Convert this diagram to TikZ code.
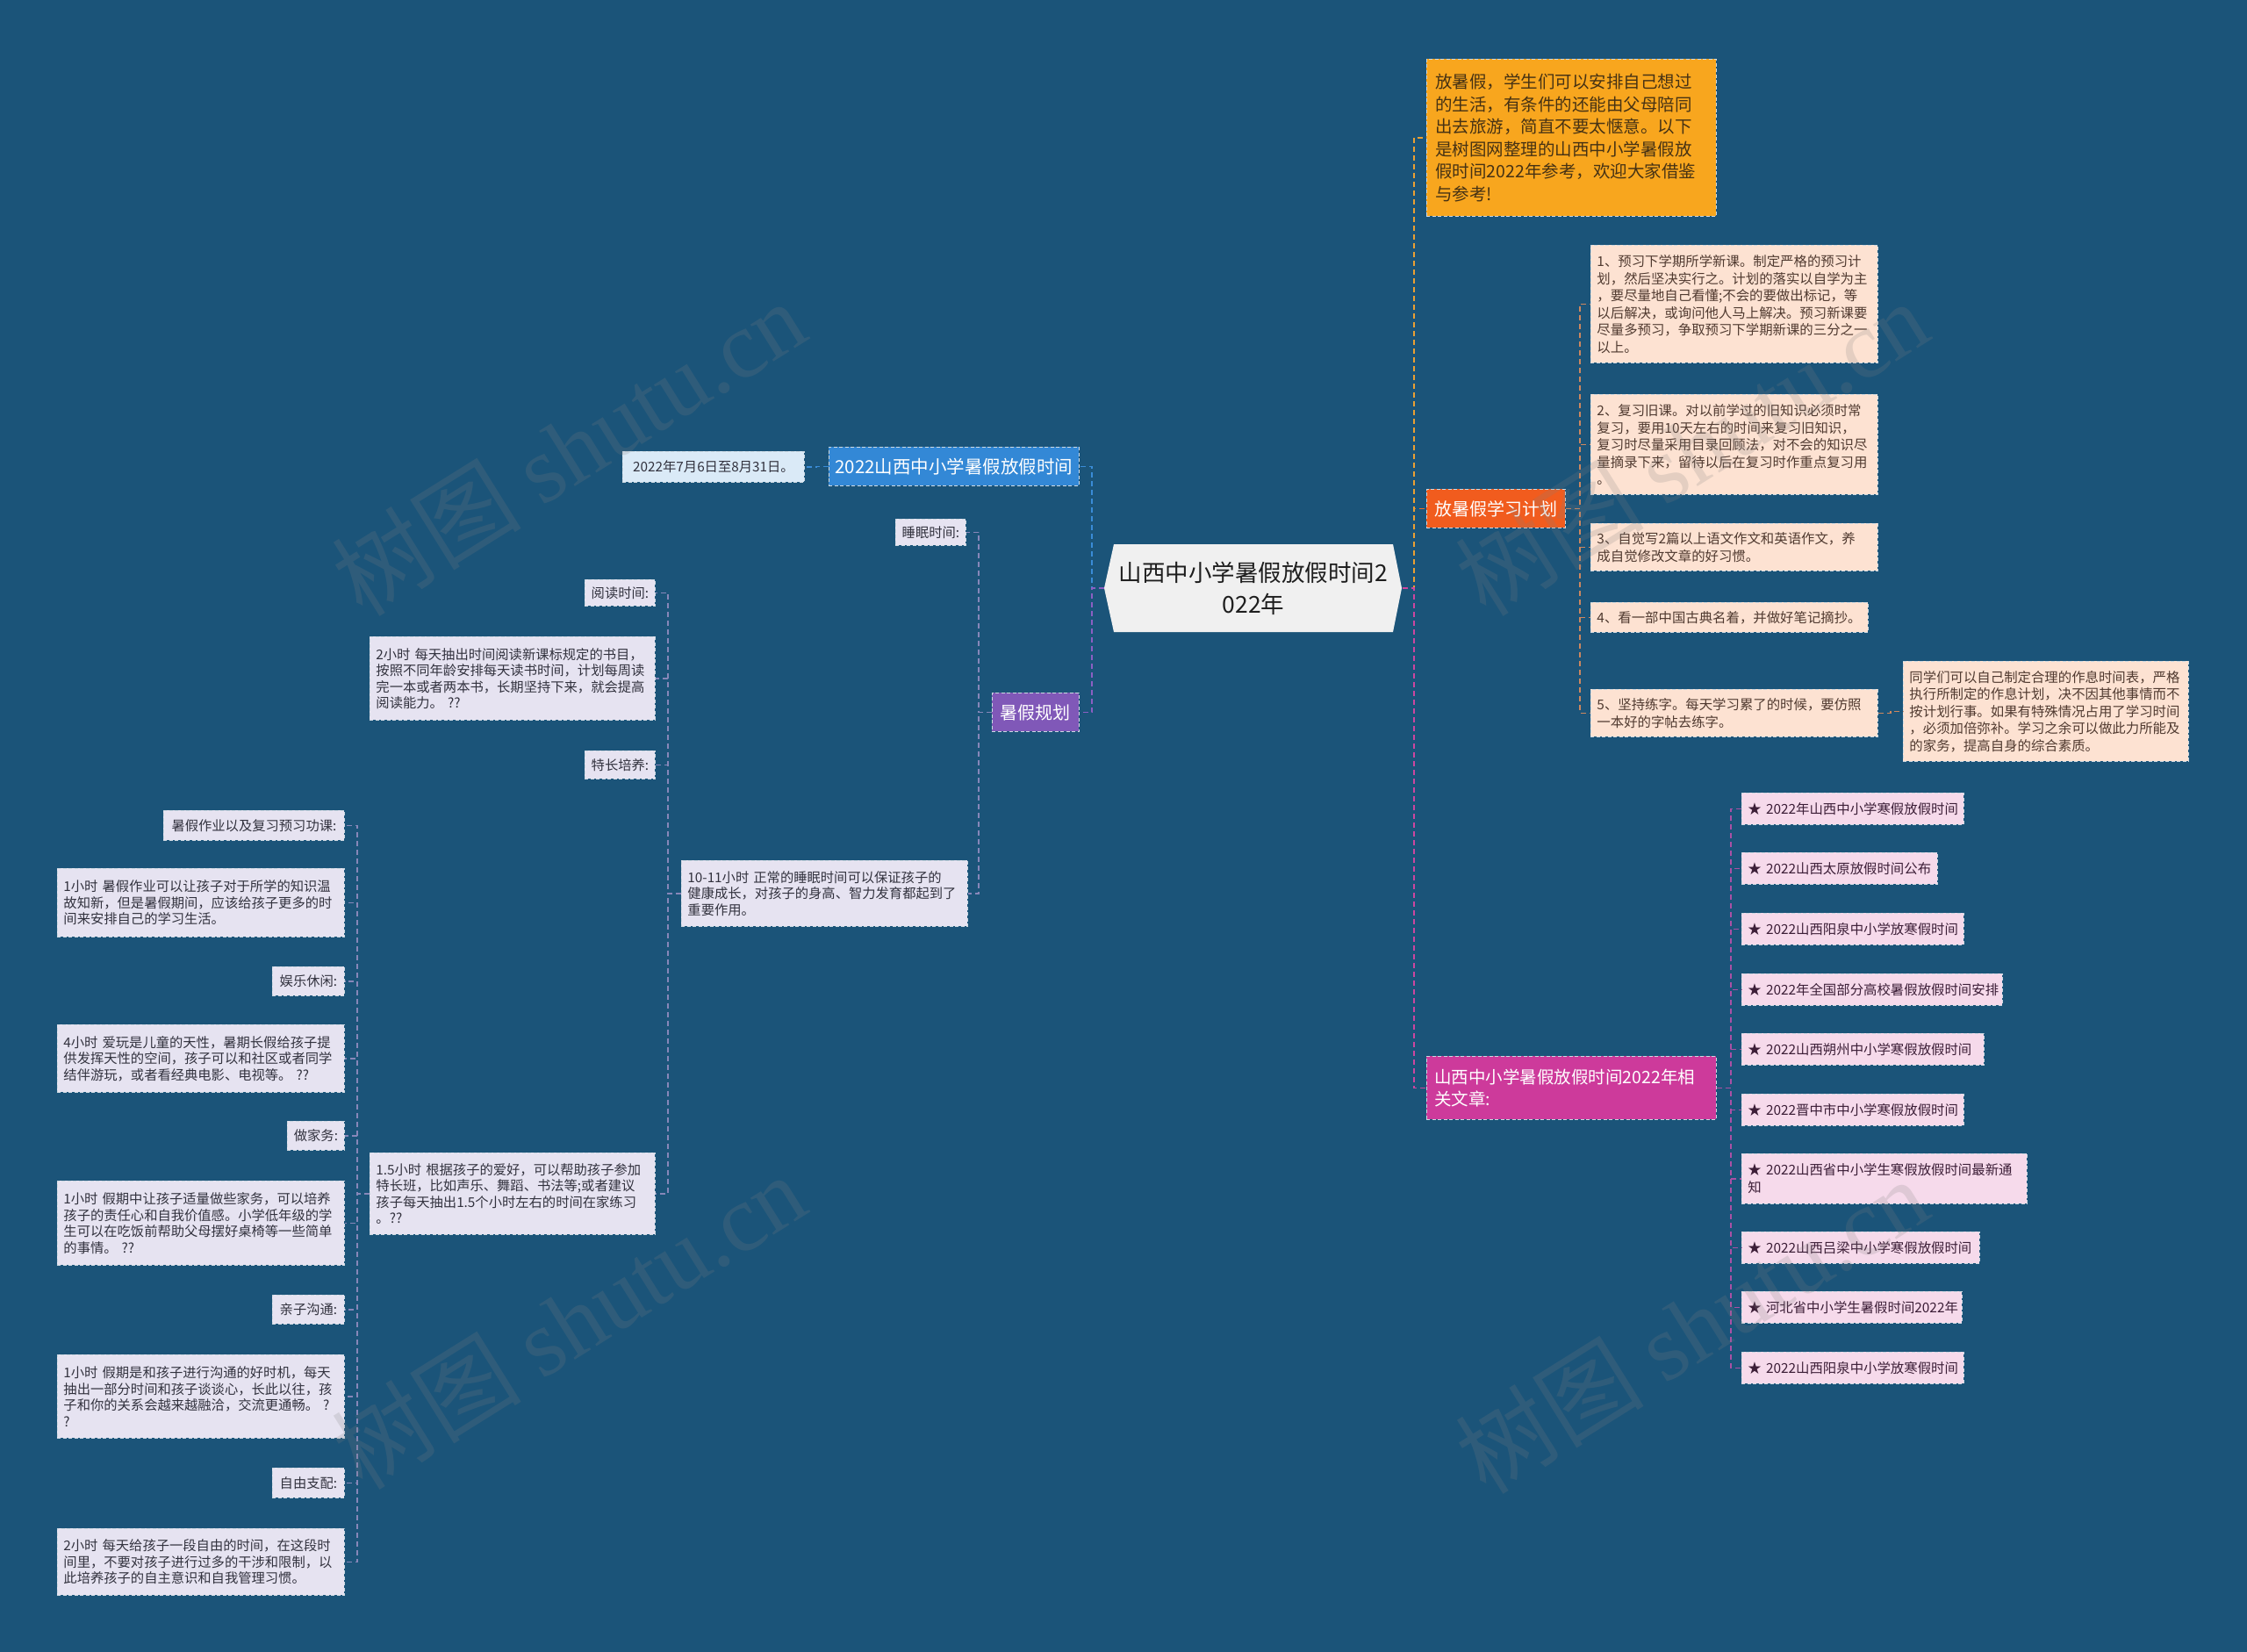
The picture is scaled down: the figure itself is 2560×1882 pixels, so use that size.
\documentclass[tikz,border=0pt]{standalone}
\usepackage{fontspec}
\newfontfamily\cjk{Noto Sans CJK SC}
\newfontfamily\wmserif{Liberation Serif}
\usetikzlibrary{positioning, calc}
\definecolor{bgc}{RGB}{27,84,121}
\definecolor{rootc}{RGB}{240,240,240}
\definecolor{blueN}{RGB}{51,136,214}
\definecolor{lblue}{RGB}{218,234,247}
\definecolor{purpN}{RGB}{128,88,184}
\definecolor{lav}{RGB}{230,227,241}
\definecolor{orgN}{RGB}{248,166,30}
\definecolor{redN}{RGB}{241,92,30}
\definecolor{peach}{RGB}{253,226,210}
\definecolor{magN}{RGB}{205,58,155}
\definecolor{pinkb}{RGB}{246,218,235}
\definecolor{txt}{RGB}{50,50,62}
\definecolor{blueL}{RGB}{58,140,215}
\definecolor{purpL}{RGB}{140,95,195}
\definecolor{greyL}{RGB}{135,135,185}
\definecolor{orgL}{RGB}{235,160,50}
\definecolor{redL}{RGB}{235,110,40}
\definecolor{tanL}{RGB}{205,135,95}
\definecolor{magL}{RGB}{205,70,160}
\definecolor{artL}{RGB}{170,80,165}
\tikzset{
  lk/.style={draw=#1, line width=1.7pt, dash pattern=on 6pt off 4pt},
  bx/.style={draw=white!78!bgc, line width=0.9pt, dash pattern=on 4pt off 2.5pt,
    align=left, anchor=north west, inner xsep=7pt, inner ysep=0pt, text=txt,
    font=\cjk\fontsize{15.3}{18.5}\selectfont},
  top/.style={bx, text=white, inner xsep=9pt, font=\cjk\fontsize{20}{24}\selectfont},
  wm/.style={text=gray, opacity=0.2, font=\cjk\fontsize{108}{108}\selectfont, rotate=32}
}
\begin{document}
\begin{tikzpicture}[x=1pt, y=-1pt,
  lavb/.style={bx, fill=lav},
  pchb/.style={bx, fill=peach, text={rgb,255:red,80;green,58;blue,48},
    font=\cjk\fontsize{15.4}{19.5}\selectfont},
  artb/.style={bx, fill=pinkb, text={rgb,255:red,60;green,30;blue,55},
    font=\cjk\fontsize{15.4}{20}\selectfont}]
\useasboundingbox (0,0) rectangle (2560,1882);
\fill[bgc] (0,0) rectangle (2560,1882);
% ---- root ----
\fill[rootc] (1258,670) -- (1269,620) -- (1587,620) -- (1597,670) -- (1587,720)
  -- (1269,720) -- cycle;
\node[align=center, inner sep=0pt, minimum width=339pt, minimum height=100pt,
      text={rgb,255:red,30;green,30;blue,30}, font=\cjk\fontsize{26.5}{36}\selectfont]
  (root) at (1428,670) {山西中小学暑假放假时间2\\022年};
% ---- left: main branches ----
\node[top, fill=blueN, align=center, inner xsep=4pt, minimum width=285pt, minimum height=44pt,
      font=\cjk\fontsize{20.5}{25}\selectfont] (b1) at (944,509) {2022山西中小学暑假放假时间};
\node[bx, fill=lblue, minimum width=207pt, minimum height=35pt] (d1) at (709,514)
  {2022年7月6日至8月31日。};
\node[top, fill=purpN, minimum width=99pt, minimum height=44pt] (pu) at (1130,789) {暑假规划};
% ---- left: short labels ----
\foreach \n/\x/\y/\w/\h/\t in {
  sleep/1020/591/80/30/{睡眠时间:}, read/666/660/80/30/{阅读时间:},
  tal/666/855/80/32/{特长培养:}, hw/186/923/206/34/{暑假作业以及复习预习功课:},
  fun/310/1101/82/33/{娱乐休闲:}, job/327/1277/65/33/{做家务:},
  talk/310/1475/82/33/{亲子沟通:}, free/310/1672/82/34/{自由支配:}}{
  \node[lavb, align=center, inner xsep=4pt, minimum width=\w pt, minimum height=\h pt]
    (\n) at (\x,\y) {\t};
}
% ---- left: long notes ----
\foreach \n/\x/\y/\w/\h/\t in {
  s1/776/980/326/75/{10-11小时~正常的睡眠时间可以保证孩子的\\健康成长，对孩子的身高、智力发育都起到了\\重要作用。},
  r1/421/725/325/95/{2小时~每天抽出时间阅读新课标规定的书目，\\按照不同年龄安排每天读书时间，计划每周读\\完一本或者两本书，长期坚持下来，就会提高\\阅读能力。~??},
  t1/421/1313/325/93/{1.5小时~根据孩子的爱好，可以帮助孩子参加\\特长班，比如声乐、舞蹈、书法等;或者建议\\孩子每天抽出1.5个小时左右的时间在家练习\\。??},
  h1/65/989/327/78/{1小时~暑假作业可以让孩子对于所学的知识温\\故知新，但是暑假期间，应该给孩子更多的时\\间来安排自己的学习生活。},
  f1/65/1167/327/77/{4小时~爱玩是儿童的天性，暑期长假给孩子提\\供发挥天性的空间，孩子可以和社区或者同学\\结伴游玩，或者看经典电影、电视等。~??},
  j1/65/1345/327/96/{1小时~假期中让孩子适量做些家务，可以培养\\孩子的责任心和自我价值感。小学低年级的学\\生可以在吃饭前帮助父母摆好桌椅等一些简单\\的事情。~??},
  k1/65/1543/327/95/{1小时~假期是和孩子进行沟通的好时机，每天\\抽出一部分时间和孩子谈谈心，长此以往，孩\\子和你的关系会越来越融洽，交流更通畅。~?\\?},
  e1/65/1741/327/76/{2小时~每天给孩子一段自由的时间，在这段时\\间里，不要对孩子进行过多的干涉和限制，以\\此培养孩子的自主意识和自我管理习惯。}}{
  \pgfmathsetmacro\tw{\w-14}
  \node[lavb, text width=\tw pt, minimum width=\w pt, minimum height=\h pt]
    (\n) at (\x,\y) {\t};
}
% ---- right: main branches ----
\node[bx, fill=orgN, text={rgb,255:red,70;green,50;blue,20}, inner xsep=10pt,
      text width=310pt, minimum height=179pt, font=\cjk\fontsize{19.5}{25.5}\selectfont]
  (intro) at (1625,67)
  {放暑假，学生们可以安排自己想过\\的生活，有条件的还能由父母陪同\\出去旅游，简直不要太惬意。以下\\是树图网整理的山西中小学暑假放\\假时间2022年参考，欢迎大家借鉴\\与参考!};
\node[top, fill=redN, minimum width=158pt, minimum height=44pt] (plan) at (1625,557) {放暑假学习计划};
\node[top, fill=magN, text width=312pt, minimum height=72pt,
      font=\cjk\fontsize{19.5}{25}\selectfont] (mag) at (1625,1203)
  {山西中小学暑假放假时间2022年相\\关文章:};
% ---- right: study plan ----
\foreach \n/\x/\y/\w/\h/\t in {
  p1/1812/279/327/134/{1、预习下学期所学新课。制定严格的预习计\\划，然后坚决实行之。计划的落实以自学为主\\，要尽量地自己看懂;不会的要做出标记，等\\以后解决，或询问他人马上解决。预习新课要\\尽量多预习，争取预习下学期新课的三分之一\\以上。},
  p2/1812/449/327/114/{2、复习旧课。对以前学过的旧知识必须时常\\复习，要用10天左右的时间来复习旧知识，\\复习时尽量采用目录回顾法，对不会的知识尽\\量摘录下来，留待以后在复习时作重点复习用\\。},
  p3/1812/596/327/54/{3、自觉写2篇以上语文作文和英语作文，养\\成自觉修改文章的好习惯。},
  p4/1812/686/316/34/{4、看一部中国古典名着，并做好笔记摘抄。},
  p5/1812/785/327/54/{5、坚持练字。每天学习累了的时候，要仿照\\一本好的字帖去练字。},
  p6/2168/753/325/114/{同学们可以自己制定合理的作息时间表，严格\\执行所制定的作息计划，决不因其他事情而不\\按计划行事。如果有特殊情况占用了学习时间\\，必须加倍弥补。学习之余可以做此力所能及\\的家务，提高自身的综合素质。}}{
  \pgfmathsetmacro\tw{\w-14}
  \node[pchb, text width=\tw pt, minimum width=\w pt, minimum height=\h pt]
    (\n) at (\x,\y) {\t};
}
% ---- right: related articles ----
\foreach \n/\y/\w/\h/\t in {
  a1/903/253/36/{★~2022年山西中小学寒假放假时间},
  a2/971/223/36/{★~2022山西太原放假时间公布},
  a3/1040/253/36/{★~2022山西阳泉中小学放寒假时间},
  a4/1109/297/36/{★~2022年全国部分高校暑假放假时间安排},
  a5/1177/276/36/{★~2022山西朔州中小学寒假放假时间},
  a6/1246/253/36/{★~2022晋中市中小学寒假放假时间},
  a7/1314/325/57/{★~2022山西省中小学生寒假放假时间最新通\\知},
  a8/1403/271/36/{★~2022山西吕梁中小学寒假放假时间},
  a9/1471/251/36/{★~河北省中小学生暑假时间2022年},
  a10/1540/253/36/{★~2022山西阳泉中小学放寒假时间}}{
  \pgfmathsetmacro\tw{\w-14}
  \node[artb, text width=\tw pt, minimum width=\w pt, minimum height=\h pt]
    (\n) at (1984,\y) {\t};
}
% ---- connectors ----
\draw[lk=blueL] (root.west) -- ++(-14,0) |- (b1.east);
\draw[lk=purpL] (root.west) -- ++(-14,0) |- (pu.east);
\draw[lk=blueL] (b1.west) -- ++(-14,0) |- (d1.east);
\foreach \c in {sleep,s1}{\draw[lk=greyL] (pu.west) -- ++(-15,0) |- (\c.east);}
\foreach \c in {read,r1,tal,t1}{\draw[lk=greyL] (s1.west) -- ++(-15,0) |- (\c.east);}
\foreach \c in {hw,h1,fun,f1,job,j1,talk,k1,free,e1}{
  \draw[lk=greyL] (t1.west) -- ++(-14,0) |- (\c.east);}
\draw[lk=redL] (root.east) -- ++(13,0) |- (plan.west);
\draw[lk=orgL] (root.east) -- ++(13,0) |- (intro.west);
\draw[lk=magL] (root.east) -- ++(13,0) |- (mag.west);
\foreach \c in {p1,p2,p3,p4,p5}{\draw[lk=tanL] (plan.east) -- ++(16,0) |- (\c.west);}
\draw[lk=tanL] (p5.east) -- ++(14,0) |- (p6.west);
\foreach \c in {a1,a2,a3,a4,a5,a6,a7,a8,a9,a10}{
  \draw[lk=artL] (mag.east) -- ++(16,0) |- (\c.west);}
% ---- watermarks ----
\foreach \n/\x/\y in {wm1/648/510, wm2/648/1505, wm3/1927/510, wm4/1927/1510}{
  \node[wm] (\n) at (\x,\y) {树图 {\wmserif shutu.cn}};
}
\end{tikzpicture}
\end{document}
